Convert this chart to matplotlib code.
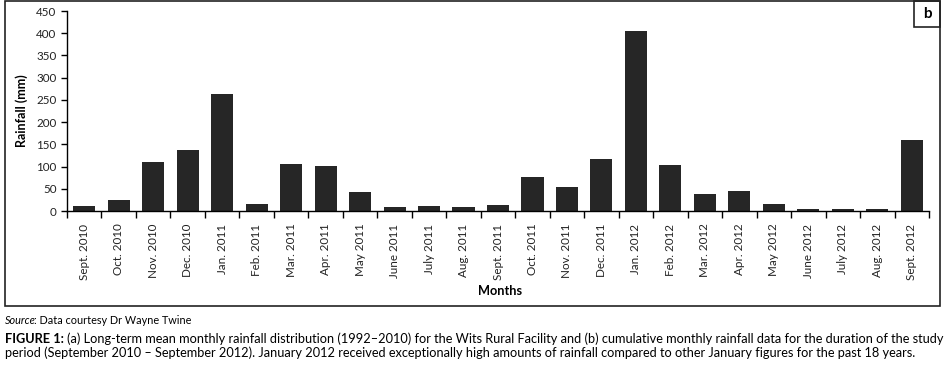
import matplotlib
matplotlib.use("Agg")
import matplotlib.pyplot as plt
from matplotlib.patches import Rectangle
import numpy as np

months = ["Sept. 2010", "Oct. 2010", "Nov. 2010", "Dec. 2010", "Jan. 2011",
          "Feb. 2011", "Mar. 2011", "Apr. 2011", "May 2011", "June 2011",
          "July 2011", "Aug. 2011", "Sept. 2011", "Oct. 2011", "Nov. 2011",
          "Dec. 2011", "Jan. 2012", "Feb. 2012", "Mar. 2012", "Apr. 2012",
          "May 2012", "June 2012", "July 2012", "Aug. 2012", "Sept. 2012"]
rainfall = [11, 25, 110, 137, 263, 16, 106, 101, 43, 9, 11, 9, 14, 76, 54,
            117, 405, 103, 38, 45, 16, 4, 4, 4, 160]
yticks = np.arange(0, 451, 50)

plt.rcParams["font.family"] = ["Lato", "DejaVu Sans"]
W, H = 947, 373
fig = plt.figure(figsize=(W / 100, H / 100), dpi=100)

# axes placed in pixel coordinates
x0, x1, y0, y1 = 67, 929, 211, 11
ax = fig.add_axes([x0 / W, 1 - y0 / H, (x1 - x0) / W, (y0 - y1) / H])
pos = np.arange(len(months))
ax.bar(pos, rainfall, width=0.64, color="#262626")
ax.set_xlim(-0.5, len(months) - 0.5)
ax.set_ylim(0, 450)
ax.set_yticks(yticks)
ax.set_xticks(pos)
ax.set_xticklabels(months, rotation=90, fontsize=8.4, color="#222222")
ax.set_xticks(np.arange(-0.5, len(months), 1), minor=True)
ax.tick_params(axis="x", which="major", length=0, pad=9)
ax.tick_params(axis="x", which="minor", length=5, width=1, direction="out")
ax.tick_params(axis="y", length=4, width=1, labelsize=8.4, labelcolor="#222222")
for s in ["top", "right"]:
    ax.spines[s].set_visible(False)
for s in ["left", "bottom"]:
    ax.spines[s].set_linewidth(1)
ax.set_ylabel("Rainfall (mm)", fontsize=9, fontweight="bold", labelpad=6)
fig.text(500 / W, 1 - 291 / H, "Months", fontsize=9.2, fontweight="bold",
         ha="center", va="center")

# outer frame and panel letter
fig.patches.append(Rectangle((5 / W, 1 - 306 / H), 935 / W, 305 / H,
                             transform=fig.transFigure, fill=False,
                             lw=1.2, ec="#222222"))
fig.patches.append(Rectangle((914 / W, 1 - 27 / H), 26 / W, 26 / H,
                             transform=fig.transFigure, fill=False,
                             lw=1.2, ec="#222222"))
fig.text(927 / W, 1 - 14 / H, "b", fontsize=11, fontweight="bold",
         ha="center", va="center")

# source and caption
fig.canvas.draw()
r = fig.canvas.get_renderer()
t = fig.text(5 / W, 1 - 320 / H, "Source", fontsize=7.8, style="italic",
             va="center")
bb = t.get_window_extent(r)
fig.text((bb.x1 - 1.5) / W, 1 - 320 / H, ": Data courtesy Dr Wayne Twine",
         fontsize=7.8, va="center")
t = fig.text(5 / W, 1 - 339 / H, "FIGURE 1:", fontsize=9.2, fontweight="bold",
             va="center")
bb = t.get_window_extent(r)
fig.text((bb.x1 + 3) / W, 1 - 339 / H,
         "(a) Long-term mean monthly rainfall distribution (1992\u20132010) for the "
         "Wits Rural Facility and (b) cumulative monthly rainfall data for the "
         "duration of the study", fontsize=9.2, va="center")
fig.text(5 / W, 1 - 353 / H,
         "period (September 2010 \u2013 September 2012). January 2012 received "
         "exceptionally high amounts of rainfall compared to other January "
         "figures for the past 18 years.", fontsize=9.2, va="center")

fig.savefig("out.png", dpi=100)
